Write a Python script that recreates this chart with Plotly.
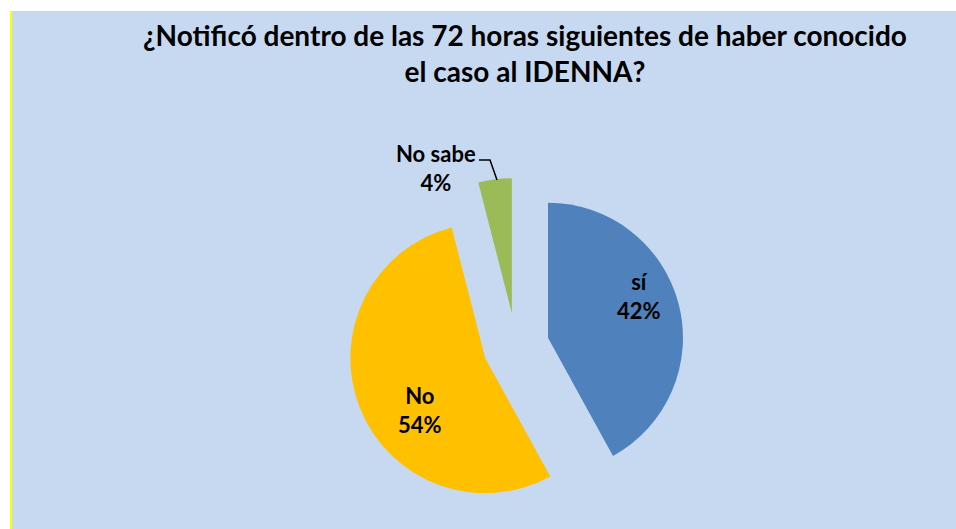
import plotly.graph_objects as go

categories = ["sí", "No", "No sabe"]
values = [42, 54, 4]
colors = ["#4F81BD", "#FFC000", "#9BBB59"]
title_text = "¿Notificó dentro de las 72 horas siguientes de haber conocido<br>el caso al IDENNA?"

W, H = 956, 529
FONT = "Lato"

fig = go.Figure()
fig.add_trace(go.Pie(
    labels=categories,
    values=values,
    marker=dict(colors=colors, line=dict(width=0)),
    sort=False,
    direction="clockwise",
    rotation=0,
    pull=[0.245, 0.245, 0.245],
    domain=dict(x=[348 / W, 684 / W], y=[15 / H, 351 / H]),
    textinfo="none",
    showlegend=False,
    hoverinfo="skip",
))

# data labels (text positions in pixels, converted to paper coords)
label_pos = [(639, 296), (420, 410), (436, 168)]
for cat, val, (px, py) in zip(categories, values, label_pos):
    fig.add_annotation(
        text=f"<b>{cat}<br>{val}%</b>", xref="paper", yref="paper",
        x=px / W, y=1 - py / H, xanchor="center", yanchor="middle",
        showarrow=False,
        font=dict(family=FONT, size=22, color="black"),
    )

# leader line for "No sabe"
fig.add_shape(type="path", xref="paper", yref="paper",
              path=f"M {479/W} {1-160/H} L {490/W} {1-160/H} L {497/W} {1-180/H}",
              line=dict(color="black", width=1.5))

# chart area background with yellow left edge
fig.add_shape(type="rect", xref="paper", yref="paper", layer="below",
              x0=12 / W, x1=1, y0=0, y1=1 - 11 / H,
              fillcolor="#C6D9F0", line=dict(width=0))
fig.add_shape(type="line", xref="paper", yref="paper", layer="below",
              x0=11 / W, x1=11 / W, y0=0, y1=1 - 11 / H,
              line=dict(color="#FFFF00", width=2))

fig.update_layout(
    width=W, height=H,
    margin=dict(l=0, r=0, t=0, b=0),
    paper_bgcolor="white",
    plot_bgcolor="white",
    title=dict(text="<b>" + title_text + "</b>", x=525 / W, xanchor="center",
               y=1 - 46 / H, yanchor="middle",
               font=dict(family=FONT, size=28, color="black")),
)

fig.write_html("out.html",
               config={"displayModeBar": False},
               post_script="document.body.style.margin='0';document.body.style.overflow='hidden';")
